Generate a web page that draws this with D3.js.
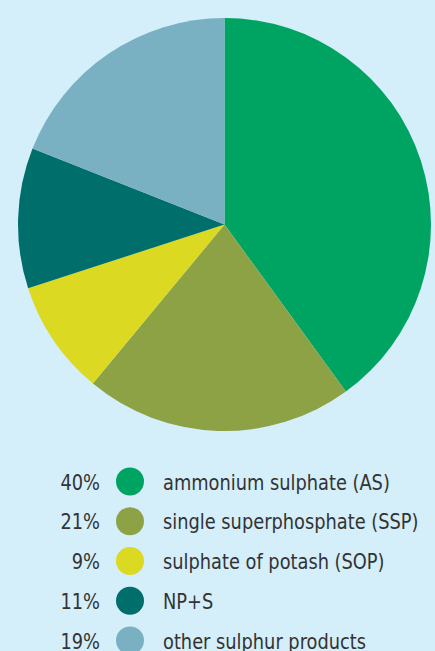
<!DOCTYPE html>
<html>
<head>
<meta charset="utf-8">
<script src="https://cdn.jsdelivr.net/npm/d3@7"></script>
<style>
  html, body { margin: 0; padding: 0; background: #d4eefa; }
  svg { display: block; }
  .legend text { font-family: "DejaVu Sans Condensed", "DejaVu Sans", sans-serif; font-stretch: condensed; font-size: 22px; fill: #333333; }
</style>
</head>
<body>
<script>
var categories = ["ammonium sulphate (AS)", "single superphosphate (SSP)", "sulphate of potash (SOP)", "NP+S", "other sulphur products"];
var shares = [40, 21, 9, 11, 19];
var colours = ["#00a462", "#8ca244", "#dcd922", "#006f6c", "#79b0c2"];

main();

function main() {
  setupCanvasSize();
  appendSvg("body");
  appendPie();
  appendLegend();
}

function setupCanvasSize() {
  width = 435;
  height = 651;
  centre = { x: 224.5, y: 224.5 };
  radius = 206.5;
  squeeze = 0.9; // the print font is narrower than DejaVu Condensed
}

function appendSvg(domElement) {
  svg = d3.select(domElement).append("svg")
    .attr("width", width)
    .attr("height", height);
}

function appendPie() {
  var data = categories.map(function (c, i) { return { label: c, value: shares[i], colour: colours[i] }; });
  var pie = d3.pie().sort(null).value(function (d) { return d.value; });
  var arc = d3.arc().innerRadius(0).outerRadius(radius);

  svg.append("g")
    .attr("transform", `translate(${centre.x}, ${centre.y})`)
    .selectAll("path")
    .data(pie(data))
    .enter()
    .append("path")
    .attr("d", arc)
    .attr("fill", function (d) { return d.data.colour; });
}

function appendLegend() {
  var y = d3.scalePoint().domain(categories).range([481.5, 640.5]);

  var rows = svg.append("g")
    .attr("class", "legend")
    .selectAll("g")
    .data(categories)
    .enter()
    .append("g")
    .attr("transform", function (d) { return `translate(0, ${y(d)})`; });

  rows.append("text")
    .attr("transform", `translate(100, 8) scale(${squeeze}, 1)`)
    .attr("text-anchor", "end")
    .text(function (d, i) { return shares[i] + "%"; });

  rows.append("circle")
    .attr("cx", 130)
    .attr("cy", 0)
    .attr("r", 14)
    .attr("fill", function (d, i) { return colours[i]; });

  rows.append("text")
    .attr("transform", `translate(163, 8) scale(${squeeze}, 1)`)
    .text(function (d) { return d; });
}
</script>
</body>
</html>
